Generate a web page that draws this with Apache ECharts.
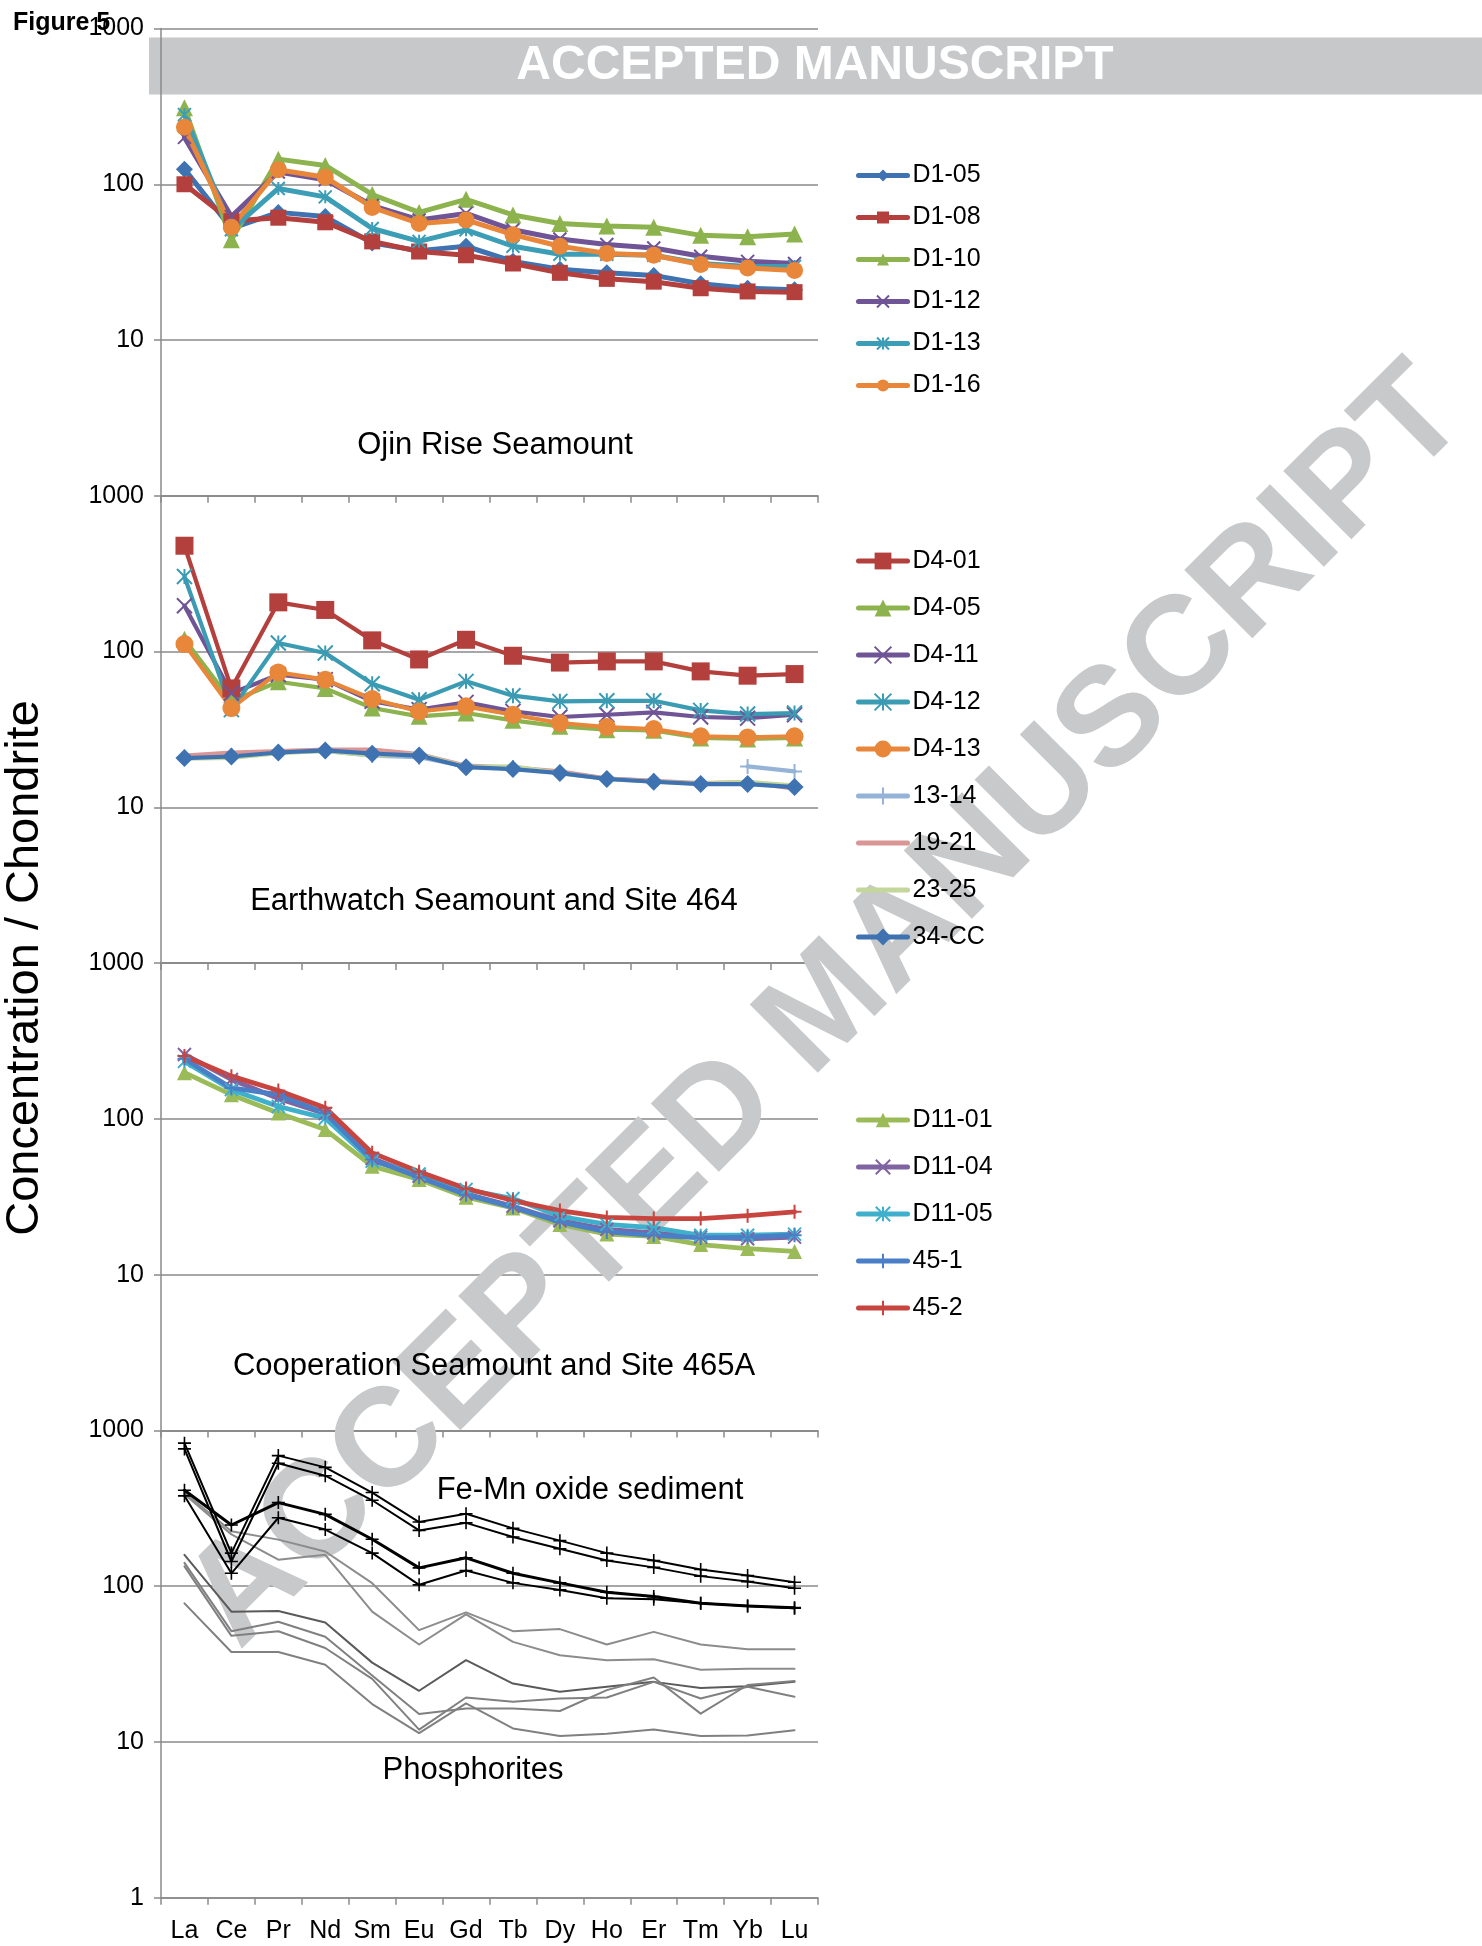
<!DOCTYPE html>
<html><head><meta charset="utf-8">
<script src="https://cdn.jsdelivr.net/npm/echarts/dist/echarts.min.js"></script>
<style>html,body{margin:0;padding:0;background:#fff}#c{width:1482px;height:1946px}</style>
</head><body><div id="c"></div>
<script>
// ---------- data ----------
const categories = ['La','Ce','Pr','Nd','Sm','Eu','Gd','Tb','Dy','Ho','Er','Tm','Yb','Lu'];
const yTicks = [1, 10, 100, 1000];

// Ojin Rise Seamount
const D1_05 = [125, 52, 66, 62, 42, 37.5, 40, 32, 28.5, 27, 26, 23, 21.5, 21];
const D1_08 = [100, 58, 61, 57, 43, 37, 35, 31, 27, 24.7, 23.7, 21.5, 20.5, 20.3];
const D1_10 = [310, 44, 145, 132, 86, 66, 80, 63.5, 56, 54, 53, 47, 46, 48];
const D1_12 = [200, 62, 120, 107, 73, 59, 65, 51, 44.5, 41, 39, 34.5, 32, 31];
const D1_13 = [280, 51, 94, 83, 52, 43, 51, 40, 35.5, 35.5, 35, 31, 29.7, 29.7];
const D1_16 = [232, 53, 124, 111, 71, 56, 59, 47.5, 40, 36, 35, 30.5, 29, 28];

// Earthwatch Seamount and Site 464
const D4_01 = [478, 58, 207, 185, 118, 89, 119, 94, 85, 86.5, 86.5, 74.6, 70, 71.7];
const D4_05 = [120, 48, 64, 58, 43.4, 38.4, 40.3, 36.2, 33.1, 31.5, 31.2, 27.9, 27.5, 27.9];
const D4_11 = [197, 54, 71, 66, 48, 42.4, 47.2, 41.3, 38, 39.3, 40.7, 38, 37.4, 39.3];
const D4_12 = [303, 42.4, 113.5, 97.8, 62.2, 49.1, 64.4, 52.1, 47.9, 48.3, 48.3, 41.9, 39.7, 40.3];
const D4_13 = [111.7, 43.4, 73.5, 66, 49.6, 41.3, 44.5, 39.3, 34.8, 32.8, 31.8, 28.6, 28.1, 28.6];
const S13_14 = [21, 21.5, 22.5, 23, 21.5, 21, 18.3, 18, 16.8, 15.3, 14.8, null, 18.3, 17];
const S19_21 = [21.5, 22.5, 23, 23.5, 23.5, 22, 18.5, 18, 17, 15.3, 14.8, 14.3, 14.5, 13.2];
const S23_25 = [20.5, 20.8, 22.3, 23, 21.5, 21.8, 18.2, 18.3, 16.6, 15.2, 14.6, 14.2, 14.6, 13.8];
const S34_CC = [20.7, 21.2, 22.5, 23.2, 22.1, 21.5, 18.1, 17.6, 16.6, 15.2, 14.6, 14.1, 14.1, 13.5];

// Cooperation Seamount and Site 465A
const D11_01 = [198, 143, 109, 85.4, 49.7, 40.8, 31.4, 26.8, 21, 18.2, 17.6, 15.6, 14.7, 14.1];
const D11_04 = [259, 179, 135, 108, 55.6, 42.8, 33, 27.5, 22.2, 19.5, 18.5, 17.4, 17, 17.4];
const D11_05 = [234, 154, 120, 101, 53.5, 44.3, 35.2, 30.8, 23.7, 21, 20, 17.9, 17.9, 18.2];
const S45_1 = [243, 158, 143, 109, 54.8, 42.2, 32.6, 27.1, 21.8, 18.8, 17.9, 17.2, 17.4, 17.9];
const S45_2 = [253, 188, 152, 118, 60.5, 45.7, 35.7, 29.9, 25.8, 23.3, 22.9, 22.9, 23.9, 25.3];

// Fe-Mn oxide sediment
const FeMn1 = [828, 163, 689, 579, 399, 258, 292, 235, 196, 163, 146, 128, 117, 106];
const FeMn2 = [761, 144, 615, 512, 356, 228, 255, 207, 174, 146, 132, 116, 107, 97];
const FeMn3 = [413, 247, 344, 289, 200, 131, 152, 121, 105, 91.4, 85.7, 77.6, 74.6, 72.8];
const FeMn4 = [380, 121, 275, 231, 163, 102, 126, 105, 94.6, 83.6, 82.4, 77.6, 74.6, 72.1];
// Phosphorites
const Phos1 = [399, 225, 199, 167, 104.5, 52.2, 67.9, 51.4, 53, 42.2, 50.9, 42.2, 39.4, 39.4];
const Phos2 = [389, 215, 148, 159, 68.6, 42.2, 65.9, 43.9, 36, 33.4, 33.9, 29.1, 29.5, 29.5];
const Phos3 = [159, 68.6, 69.3, 58.5, 32.3, 21.3, 33.5, 23.7, 21.0, 22.6, 24.3, 22.2, 22.8, 24.3];
const Phos4 = [141, 51.4, 59.1, 47.3, 26.7, 15.1, 16.4, 16.4, 15.8, 21.5, 25.9, 15.2, 23.2, 24.6];
const Phos5 = [134, 48, 51.4, 40.1, 25.4, 12.0, 19.3, 18.1, 19.0, 19.3, 24.3, 19.0, 22.6, 19.5];
const Phos6 = [77.6, 37.8, 37.8, 31.3, 17.5, 11.4, 17.7, 12.2, 10.9, 11.3, 12.0, 10.9, 11.0, 11.9];

// ---------- styles ----------
const FONT = 'Liberation Sans, Arial, Helvetica, sans-serif';
const GRIDC = '#8a8a8a';
const SYM_X = 'path://M0,0L10,10M10,0L0,10';
const SYM_STAR = 'path://M0,0L10,10M10,0L0,10M5,0L5,10';
const SYM_PLUS = 'path://M5,0L5,10M0,5L10,5';
const strokeSyms = [SYM_X, SYM_STAR, SYM_PLUS];

function mk(name, data, g, color, symbol, size, lw) {
  const stroke = strokeSyms.indexOf(symbol) >= 0;
  return {
    type: 'line', name: name, data: data, xAxisIndex: g, yAxisIndex: g,
    color: color, symbol: symbol, symbolSize: size, showSymbol: symbol !== 'none',
    connectNulls: false,
    lineStyle: { width: lw, color: color, cap: 'round', join: 'round' },
    itemStyle: stroke ? { color: color, borderColor: color, borderWidth: 2 } : { color: color, borderWidth: 0 },
    emphasis: { disabled: true }, silent: true, animation: false
  };
}

const series = [
  mk('D1-05', D1_05, 0, '#3f72b1', 'diamond', 17, 5),
  mk('D1-08', D1_08, 0, '#b3403d', 'rect', 16, 5),
  mk('D1-10', D1_10, 0, '#8db34e', 'triangle', 17, 5),
  mk('D1-12', D1_12, 0, '#6f5496', SYM_X, 13, 5),
  mk('D1-13', D1_13, 0, '#3b9db6', SYM_STAR, 13, 5),
  mk('D1-16', D1_16, 0, '#e8863a', 'circle', 17, 5),

  mk('D4-01', D4_01, 1, '#b3403d', 'rect', 18, 4.2),
  mk('D4-05', D4_05, 1, '#8db34e', 'triangle', 17, 4.2),
  mk('D4-11', D4_11, 1, '#6f5496', SYM_X, 15, 4.2),
  mk('D4-12', D4_12, 1, '#3b9bb3', SYM_STAR, 15, 4.2),
  mk('D4-13', D4_13, 1, '#e8863a', 'circle', 18, 4.2),
  mk('13-14', S13_14, 1, '#95b3d7', SYM_PLUS, 15, 4.2),
  mk('19-21', S19_21, 1, '#d99694', 'none', 0, 4.2),
  mk('23-25', S23_25, 1, '#c3d69b', 'none', 0, 4.2),
  mk('34-CC', S34_CC, 1, '#3f72b1', 'diamond', 18, 4.2),

  mk('D11-01', D11_01, 2, '#9bbb59', 'triangle', 15, 4.8),
  mk('D11-04', D11_04, 2, '#8064a2', SYM_X, 13, 4.8),
  mk('D11-05', D11_05, 2, '#3fb0cc', SYM_STAR, 13, 4.8),
  mk('45-1', S45_1, 2, '#4a7fc8', SYM_PLUS, 14, 4.8),
  mk('45-2', S45_2, 2, '#c8453f', SYM_PLUS, 14, 4.8),

  mk('Phosphorite 1', Phos1, 3, '#8c8c8c', 'none', 0, 2),
  mk('Phosphorite 2', Phos2, 3, '#8c8c8c', 'none', 0, 2),
  mk('Phosphorite 3', Phos3, 3, '#5a5a5a', 'none', 0, 2),
  mk('Phosphorite 4', Phos4, 3, '#808080', 'none', 0, 2),
  mk('Phosphorite 5', Phos5, 3, '#808080', 'none', 0, 2),
  mk('Phosphorite 6', Phos6, 3, '#808080', 'none', 0, 2),
  mk('Fe-Mn 1', FeMn1, 3, '#000000', SYM_PLUS, 13, 2),
  mk('Fe-Mn 2', FeMn2, 3, '#000000', SYM_PLUS, 13, 2),
  mk('Fe-Mn 3', FeMn3, 3, '#000000', SYM_PLUS, 13, 3),
  mk('Fe-Mn 4', FeMn4, 3, '#000000', SYM_PLUS, 13, 2)
];
series.forEach(s => { if (s.itemStyle.borderColor === '#000000') s.itemStyle.borderWidth = 1.6; });

const PANEL_TOP = 28.5, PANEL_H = 467.3;
const grids = [0, 1, 2, 3].map(i => ({ left: 161, width: 657, top: PANEL_TOP + i * PANEL_H, height: PANEL_H, outerBoundsMode: 'none', containLabel: false }));
const xAxes = [0, 1, 2, 3].map(i => ({
  type: 'category', gridIndex: i, data: categories, boundaryGap: true,
  axisLine: { show: true, lineStyle: { color: GRIDC, width: 1.5 } },
  axisTick: { show: true, length: 7, inside: false, lineStyle: { color: GRIDC, width: 1.5 } },
  axisLabel: { show: i === 3, interval: 0, fontSize: 25, color: '#000', margin: 21, fontFamily: FONT },
  splitLine: { show: false }
}));
const yAxes = [0, 1, 2, 3].map(i => ({
  type: 'log', logBase: 10, gridIndex: i, min: yTicks[0], max: yTicks[yTicks.length - 1],
  axisLine: { show: true, lineStyle: { color: GRIDC, width: 1.5 } },
  axisTick: { show: true, length: 7, lineStyle: { color: GRIDC, width: 1.5 } },
  axisLabel: { fontSize: 25, color: '#000', margin: 17, fontFamily: FONT, showMinLabel: i === 3, showMaxLabel: true,
    formatter: v => String(Math.round(v)) },
  splitLine: { show: true, lineStyle: { color: GRIDC, width: 1.5 } },
  minorTick: { show: false }, minorSplitLine: { show: false }
}));

function legendFor(names, top, gap, iconH, hidden) {
  return {
    orient: 'vertical', left: 856, top: top, padding: 0, itemGap: gap,
    itemWidth: 49, itemHeight: iconH, selectedMode: false,
    textStyle: { fontSize: 25, color: '#000', fontFamily: FONT },
    lineStyle: { width: 5, cap: 'round' },
    data: names.map(n => hidden.indexOf(n) >= 0 ? { name: n, itemStyle: { opacity: 0 } } : { name: n })
  };
}
const legends = [
  legendFor(['D1-05','D1-08','D1-10','D1-12','D1-13','D1-16'], 163, 17, 15, []),
  legendFor(['D4-01','D4-05','D4-11','D4-12','D4-13','13-14','19-21','23-25','34-CC'], 548.5, 22, 21, ['19-21','23-25']),
  legendFor(['D11-01','D11-04','D11-05','45-1','45-2'], 1107.5, 22, 18, [])
];

function txt(text, x, y, size, opts) {
  return Object.assign({ type: 'text', x: x, y: y, z: 10,
    style: { text: text, fill: '#000', font: size + 'px ' + FONT, textAlign: 'center', textVerticalAlign: 'middle' } }, opts || {});
}

const graphic = [
  { type: 'text', x: 828, y: 1008, rotation: Math.PI / 4, z: 1,
    style: { text: 'ACCEPTED MANUSCRIPT', fill: '#c8c9cb', font: 'bold 140px ' + FONT, textAlign: 'center', textVerticalAlign: 'middle' } },
  { type: 'rect', z: -5, shape: { x: 149, y: 37.5, width: 1333, height: 57 }, style: { fill: '#c7c8ca' } },
  { type: 'text', x: 815, y: 66, z: -4,
    style: { text: 'ACCEPTED MANUSCRIPT', fill: '#ffffff', font: 'bold 48px ' + FONT, textAlign: 'center', textVerticalAlign: 'middle' } },
  { type: 'text', x: 13, y: 23, z: 10,
    style: { text: 'Figure 5', fill: '#000', font: 'bold 25px ' + FONT, textAlign: 'left', textVerticalAlign: 'middle' } },
  txt('Ojin Rise Seamount', 495, 445.5, 31),
  txt('Earthwatch Seamount and Site 464', 494, 901.5, 31),
  txt('Cooperation Seamount and Site 465A', 494, 1366.5, 31),
  txt('Fe-Mn oxide sediment', 590, 1490.5, 31),
  txt('Phosphorites', 473, 1770.5, 31),
  txt('Concentration / Chondrite', 25, 968, 47, { rotation: Math.PI / 2 })
];

const chart = echarts.init(document.getElementById('c'), null, { renderer: 'canvas', width: 1482, height: 1946 });
chart.setOption({
  backgroundColor: '#ffffff',
  animation: false,
  textStyle: { fontFamily: FONT },
  grid: grids, xAxis: xAxes, yAxis: yAxes,
  legend: legends,
  graphic: graphic,
  series: series
});
</script></body></html>
